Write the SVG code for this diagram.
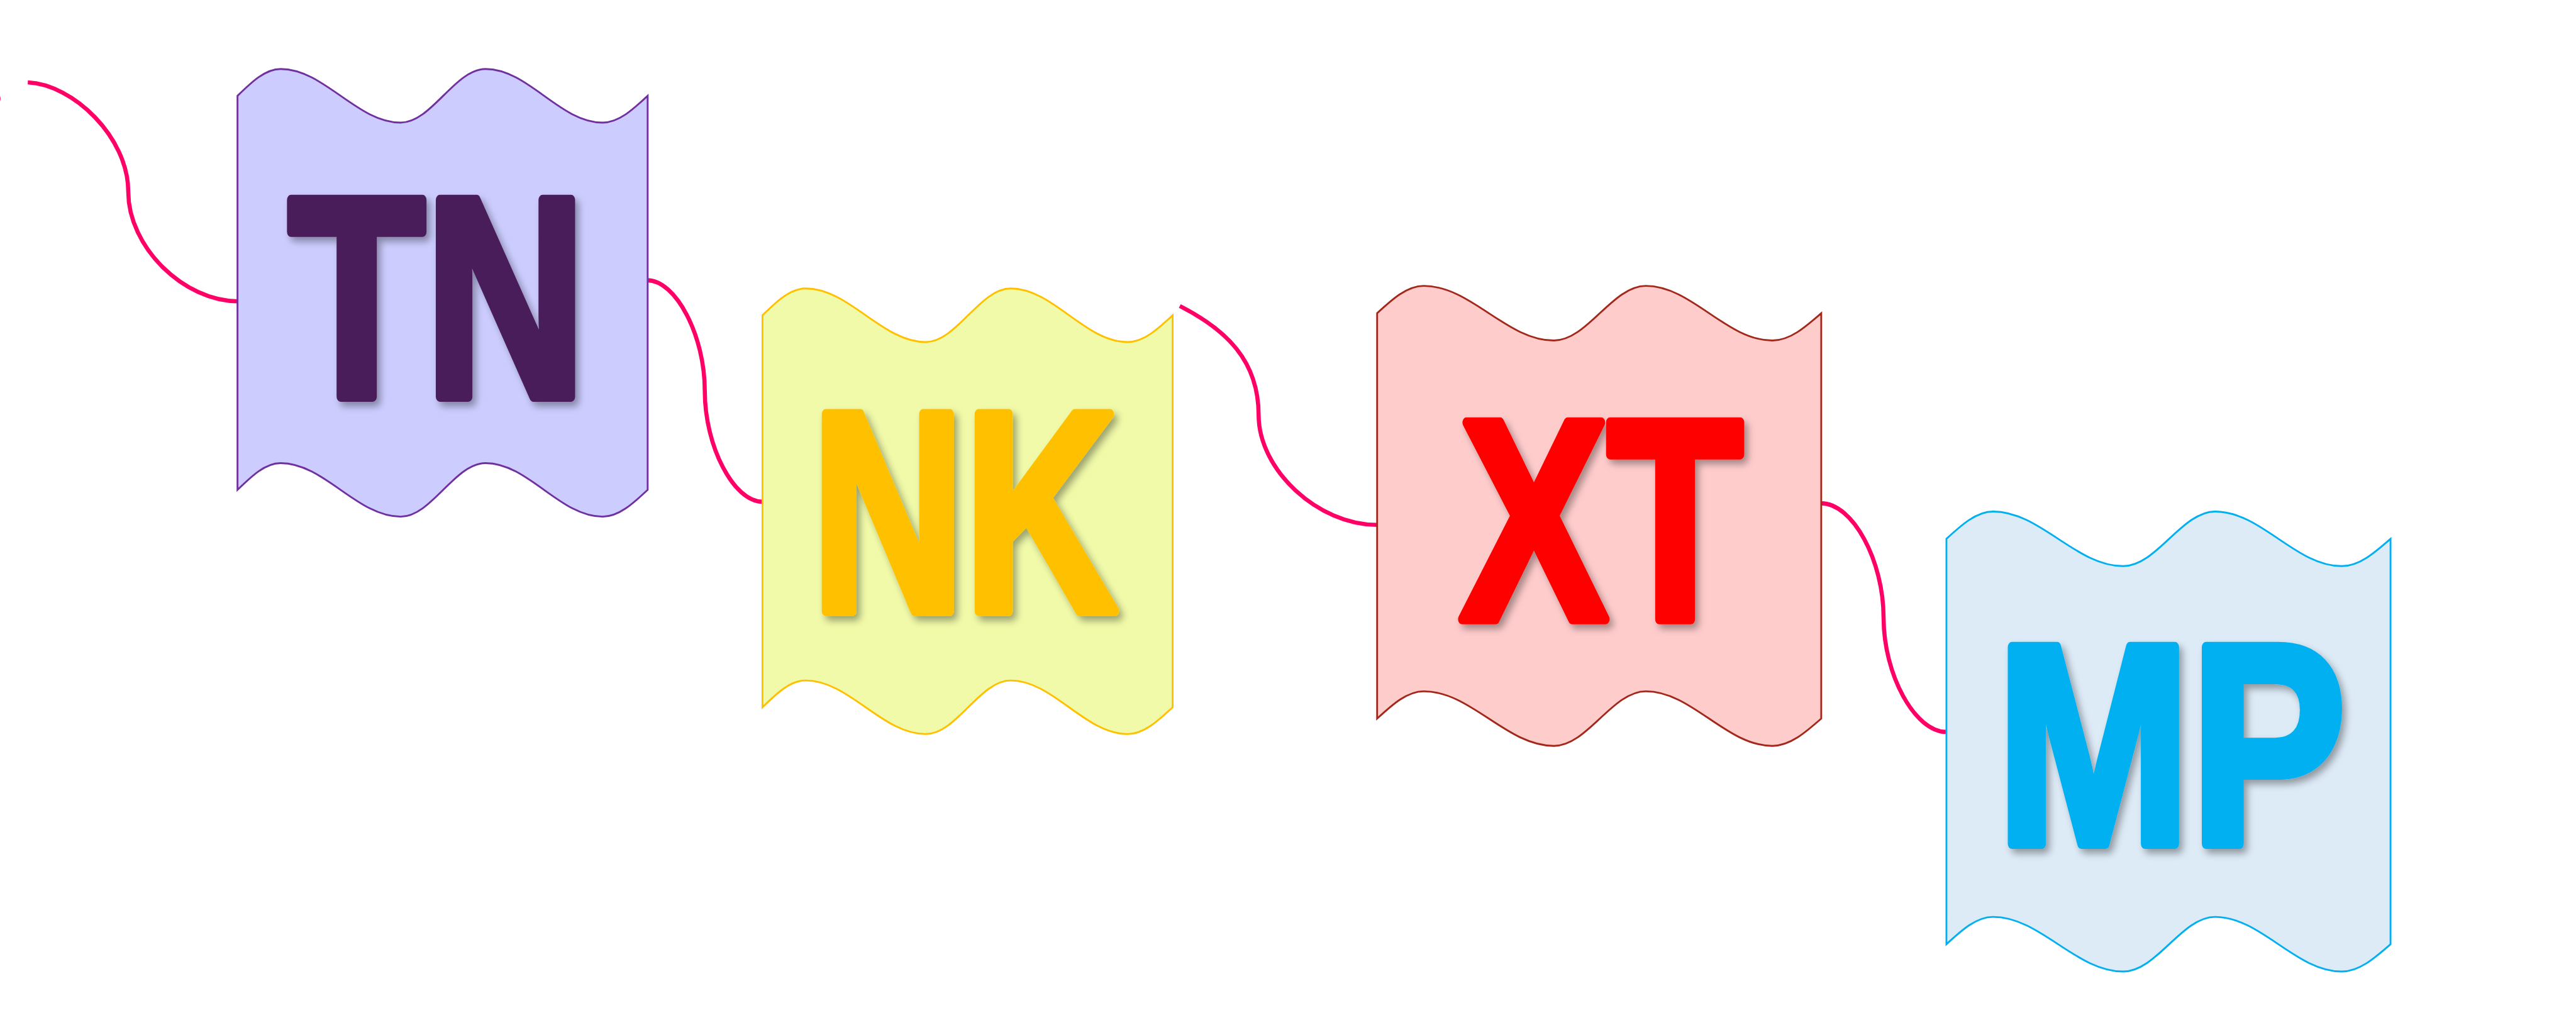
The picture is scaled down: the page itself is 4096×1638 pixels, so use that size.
<svg xmlns="http://www.w3.org/2000/svg" width="4096" height="1638" viewBox="0 0 4096 1638">
<defs>
<style>
.box{stroke-width:3.5;stroke-linejoin:miter}
.lbl{font-family:"Liberation Sans",Arial,sans-serif;font-weight:bold;font-size:555px;stroke-width:20px;stroke-linejoin:round;filter:url(#sh)}
.con{fill:none;stroke:#FF0066;stroke-width:8}
</style>
<filter id="sh" x="-10%" y="-10%" width="130%" height="130%">
<feDropShadow dx="7" dy="9" stdDeviation="7" flood-color="#000" flood-opacity="0.35"/>
</filter>
</defs>
<rect width="4096" height="1638" fill="#ffffff"/>
<g transform="scale(0.8192)">
<g id="connectors">
<path class="con" d="M-8,182 Q2,191.5 -8,201"/>
<path class="con" d="M54,160 C142,164 249,266 249,372.5 C249,479 356,585 463,585"/>
<path class="con" d="M1256,544 C1312,544 1368,651.5 1368,759 C1368,866.5 1424,974 1480,974"/>
<path class="con" d="M2290,594 C2380,640 2443,700 2443,806 C2443,912 2558,1019 2673,1019"/>
<path class="con" d="M3535,977 C3596,977 3656,1088 3656,1199 C3656,1310 3717,1421 3778,1421"/>
</g>
<g id="node-TN">
<path class="box" fill="#CCCCFF" stroke="#7030A0" d="M461,186 c27.3,-26.6 53.4,-52 83.6,-52 c84.9,0 148.3,104 233.2,104 c60,0 104.8,-104 164.8,-104 c82.6,0 144.3,104 226.9,104 c31.6,0 59,-25.4 87.6,-52 V951 c-28.6,26.6 -56,52 -87.6,52 c-82.6,0 -144.3,-104 -226.9,-104 c-60,0 -104.8,104 -164.8,104 c-84.9,0 -148.3,-104 -233.2,-104 c-30.2,0 -56.3,25.4 -83.6,52 Z"/>
<text class="lbl" x="560" y="770" textLength="577.7" lengthAdjust="spacingAndGlyphs" fill="#481E5A" stroke="#481E5A">TN</text>
</g>
<g id="node-NK">
<path class="box" fill="#F0FAA8" stroke="#FFC000" d="M1480,612 c27.3,-26.6 53.4,-52 83.6,-52 c84.9,0 148.3,104 233.2,104 c60,0 104.8,-104 164.8,-104 c82.6,0 144.3,104 226.9,104 c31.6,0 59,-25.4 87.6,-52 V1373 c-28.6,26.6 -56,52 -87.6,52 c-82.6,0 -144.3,-104 -226.9,-104 c-60,0 -104.8,104 -164.8,104 c-84.9,0 -148.3,-104 -233.2,-104 c-30.2,0 -56.3,25.4 -83.6,52 Z"/>
<text class="lbl" x="1575" y="1186" textLength="593.5" lengthAdjust="spacingAndGlyphs" fill="#FFC000" stroke="#FFC000">NK</text>
</g>
<g id="node-XT">
<path class="box" fill="#FFCCCC" stroke="#A3281C" d="M2673,608 c29.5,-27.1 57.8,-53 90.5,-53 c92,0 160.6,106 252.6,106 c65,0 113.4,-106 178.4,-106 c89.5,0 156.2,106 245.7,106 c34.2,0 63.9,-25.9 94.8,-53 V1395 c-30.9,27.1 -60.6,53 -94.8,53 c-89.5,0 -156.2,-106 -245.7,-106 c-65,0 -113.4,106 -178.4,106 c-92,0 -160.6,-106 -252.6,-106 c-32.7,0 -61,25.9 -90.5,53 Z"/>
<text class="lbl" x="2834" y="1202" textLength="548.4" lengthAdjust="spacingAndGlyphs" fill="#FF0000" stroke="#FF0000">XT</text>
</g>
<g id="node-MP">
<path class="box" fill="#DDEBF7" stroke="#00B0F0" d="M3778,1046 c29.5,-27.1 57.8,-53 90.5,-53 c92,0 160.6,106 252.6,106 c65,0 113.4,-106 178.4,-106 c89.5,0 156.2,106 245.7,106 c34.2,0 63.9,-25.9 94.8,-53 V1833 c-30.9,27.1 -60.6,53 -94.8,53 c-89.5,0 -156.2,-106 -245.7,-106 c-65,0 -113.4,106 -178.4,106 c-92,0 -160.6,-106 -252.6,-106 c-32.7,0 -61,25.9 -90.5,53 Z"/>
<text class="lbl" x="3875" y="1638" textLength="678.2" lengthAdjust="spacingAndGlyphs" fill="#00B0F0" stroke="#00B0F0">MP</text>
</g>
</g>
</svg>
